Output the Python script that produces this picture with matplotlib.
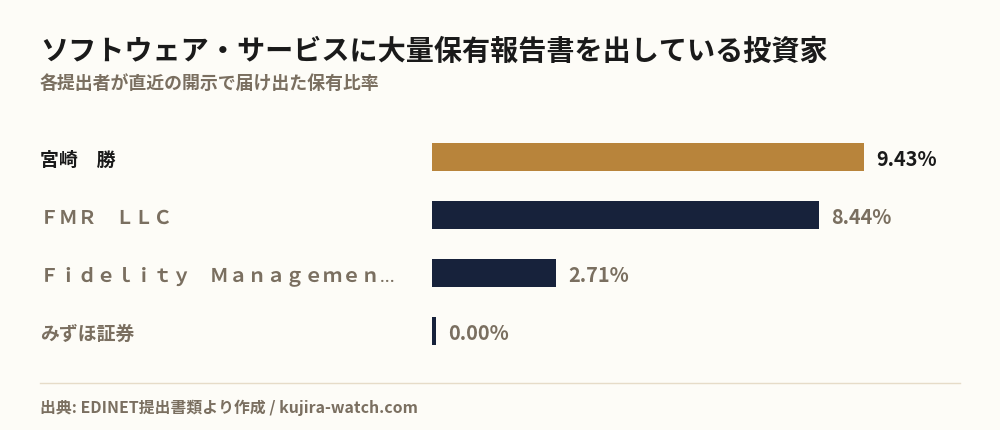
import numpy as np
import matplotlib
matplotlib.use("Agg")
import matplotlib.pyplot as plt
import matplotlib.transforms as mtransforms

plt.rcParams['font.family'] = ['Noto Sans CJK JP', 'DejaVu Sans']

# data
names = ['宮崎　勝', 'ＦＭＲ　ＬＬＣ', 'Ｆｉｄｅｌｉｔｙ　Ｍａｎａｇｅｍｅｎ…', 'みずほ証券']
ratios = [9.43, 8.44, 2.71, 0.00]
highlight = [True, False, False, False]

title = 'ソフトウェア・サービスに大量保有報告書を出している投資家'
subtitle = '各提出者が直近の開示で届け出た保有比率'
source = '出典: EDINET提出書類より作成 / kujira-watch.com'

bg = '#fdfcf7'
gold = '#b8843b'
navy = '#17223b'
gray = '#7a6f60'
dark = '#1a1a1a'

W, H = 1000, 430
fig = plt.figure(figsize=(W / 100, H / 100), dpi=100, facecolor=bg)

# axes placed in pixel terms: bars start at x=432, rows 58px apart
ax_left, ax_right = 432, 960
ax_top, ax_bot = 128, 360
ax = fig.add_axes([ax_left / W, 1 - ax_bot / H, (ax_right - ax_left) / W, (ax_bot - ax_top) / H])
ax.set_facecolor(bg)
px_per_unit = 45.8
xmax = (ax_right - ax_left) / px_per_unit
ax.set_xlim(0, xmax)
ax.set_ylim(len(names) - 0.5, -0.5)
ax.axis('off')

y = np.arange(len(names))
min_w = 4 / px_per_unit
widths = [max(r, min_w) for r in ratios]
colors = [gold if h else navy for h in highlight]
ax.barh(y, widths, height=28 / 58, color=colors, edgecolor='none')

trans = mtransforms.blended_transform_factory(fig.transFigure, ax.transData)
for i, (n, r, h) in enumerate(zip(names, ratios, highlight)):
    ax.text(40 / W, i + 0.06, n, transform=trans, ha='left', va='center',
            family=['Noto Sans', 'Noto Sans CJK JP'],
            fontsize=13.6, fontweight='bold', color=dark if h else gray)
    ax.annotate(f'{r:.2f}%', xy=(max(r, min_w), i + 0.04), xytext=(9, 0),
                textcoords='offset points', ha='left', va='center',
                fontsize=14.3, fontweight='bold', color=dark if h else gray)

fig.text(40 / W, 1 - 52 / H, title, ha='left', va='center',
         fontsize=20.25, fontweight='bold', color=dark)
fig.text(40 / W, 1 - 84 / H, subtitle, ha='left', va='center',
         fontsize=12.9, fontweight='bold', color=gray)

fig.add_artist(plt.Line2D([40 / W, 960 / W], [1 - 383 / H, 1 - 383 / H],
                          transform=fig.transFigure, color='#e6dcc8', lw=1))
fig.text(40 / W, 1 - 408 / H, source, ha='left', va='center',
         fontsize=11.4, fontweight='bold', color=gray)

fig.savefig('out.png', dpi=100, facecolor=bg)
